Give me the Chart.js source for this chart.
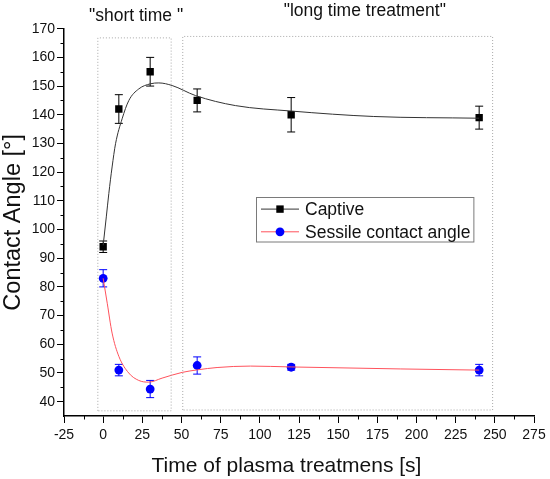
<!DOCTYPE html>
<html>
<head>
<meta charset="utf-8">
<script src="https://cdn.jsdelivr.net/npm/chart.js@4.4.0/dist/chart.umd.min.js"></script>
<style>
  html, body { margin: 0; padding: 0; background: #fff; }
  #wrap { width: 550px; height: 479px; }
</style>
</head>
<body>
<div id="wrap"><canvas id="myChart"></canvas></div>
<script>
// measured points
const times = [0, 10, 30, 60, 120, 240];
const captive = [94, 142, 155, 145, 140, 139];
const captiveErr = [2, 5, 5, 4, 6, 4];
const sessile = [83, 51, 44.4, 52.6, 52, 51];
const sessileErr = [3, 2, 3, 3, 1, 2];

// fitted curves
const captiveFitX = [0, 2, 3.6, 5.7, 7.9, 12.1, 16.4, 22.7, 30.2, 35.5, 44, 58.9, 84.4, 120, 172.7, 240];
const captiveFitY = [94.5, 104.4, 112.5, 121.8, 129.9, 138.6, 145, 149, 150.8, 151.1, 150.2, 146.7, 143.2, 141.3, 139.4, 138.8];
const sessileFitX = [0, 2.6, 5.7, 10, 16.3, 22.7, 29.1, 37.6, 50.4, 60.4, 72.7, 94, 120, 190, 240];
const sessileFitY = [83, 74.3, 63.9, 55.8, 50, 47.4, 46.8, 48.2, 50.2, 51.1, 51.9, 52.4, 52.1, 51.4, 51];

// axes
const xTicks = [-25, 0, 25, 50, 75, 100, 125, 150, 175, 200, 225, 250, 275];
const xMinor = [-12.5, 12.5, 37.5, 62.5, 87.5, 112.5, 137.5, 162.5, 187.5, 212.5, 237.5, 262.5];
const yTicks = [40, 50, 60, 70, 80, 90, 100, 110, 120, 130, 140, 150, 160, 170];
const yMinor = [45, 55, 65, 75, 85, 95, 105, 115, 125, 135, 145, 155, 165];

// dotted regions: [xFrom, xTo, yFrom, yTo]
const shortRegion = [-3.4, 43.4, 36.8, 166.8];
const longRegion = [50.8, 248.6, 37.1, 167.3];

const FONT = 'Liberation Sans, Arial, sans-serif';
const RED = 'rgb(255, 82, 92)';
const BLUE = '#0000ff';

const toPoints = (xs, ys) => xs.map((x, i) => ({ x: x, y: ys[i] }));
const boxPoints = (r) => [
  { x: r[0], y: r[2] }, { x: r[0], y: r[3] }, { x: r[1], y: r[3] },
  { x: r[1], y: r[2] }, { x: r[0], y: r[2] }
];

const errorBars = {
  id: 'errorBars',
  beforeDatasetsDraw(chart) {
    const { ctx, scales: { x, y } } = chart;
    ctx.save();
    ctx.lineWidth = 1;
    [[captive, captiveErr, '#000'], [sessile, sessileErr, BLUE]].forEach(([vals, errs, color]) => {
      ctx.strokeStyle = color;
      vals.forEach((v, i) => {
        const px = x.getPixelForValue(times[i]);
        const top = y.getPixelForValue(v + errs[i]);
        const bot = y.getPixelForValue(v - errs[i]);
        ctx.beginPath();
        ctx.moveTo(px, top); ctx.lineTo(px, bot);
        ctx.moveTo(px - 4, top); ctx.lineTo(px + 4, top);
        ctx.moveTo(px - 4, bot); ctx.lineTo(px + 4, bot);
        ctx.stroke();
      });
    });
    ctx.restore();
  }
};

const minorTicks = {
  id: 'minorTicks',
  afterDraw(chart) {
    const { ctx, chartArea, scales: { x, y } } = chart;
    ctx.save();
    ctx.strokeStyle = '#000';
    ctx.lineWidth = 1;
    ctx.beginPath();
    xMinor.forEach(v => {
      const px = Math.round(x.getPixelForValue(v)) + 0.5;
      ctx.moveTo(px, chartArea.bottom);
      ctx.lineTo(px, chartArea.bottom + 3.5);
    });
    yMinor.forEach(v => {
      const py = Math.round(y.getPixelForValue(v)) + 0.5;
      ctx.moveTo(chartArea.left, py);
      ctx.lineTo(chartArea.left - 3.5, py);
    });
    ctx.stroke();
    ctx.restore();
  }
};

const labels = {
  id: 'labels',
  afterDraw(chart) {
    const { ctx, chartArea, scales: { x } } = chart;
    ctx.save();
    ctx.fillStyle = '#111';
    ctx.textAlign = 'center';
    ctx.textBaseline = 'alphabetic';
    ctx.font = '17.5px ' + FONT;
    ctx.fillText('"short time "', x.getPixelForValue(21), chartArea.top - 7.7);
    ctx.fillText('"long time treatment"', x.getPixelForValue(167), chartArea.top - 13);
    ctx.font = '21px ' + FONT;
    ctx.fillText('Time of plasma treatmens [s]', x.getPixelForValue(117), chart.height - 7.5);
    ctx.restore();
  }
};

const legendBox = {
  id: 'legendBox',
  afterDraw(chart) {
    const { ctx, scales: { x, y } } = chart;
    const left = Math.round(x.getPixelForValue(97.6)) + 0.5;
    const top = Math.round(y.getPixelForValue(111.4)) + 0.5;
    const entries = [
      { text: 'Captive', line: '#333', shape: 'rect', color: '#000' },
      { text: 'Sessile contact angle', line: RED, shape: 'circle', color: BLUE }
    ];
    ctx.save();
    ctx.font = '17.5px ' + FONT;
    const textW = Math.max(...entries.map(e => ctx.measureText(e.text).width));
    const w = 48.5 + textW + 3.5, h = 44.5;
    ctx.fillStyle = '#fff';
    ctx.fillRect(left, top, w, h);
    ctx.strokeStyle = '#7a7a7a';
    ctx.lineWidth = 1;
    ctx.strokeRect(left, top, w, h);
    entries.forEach((e, i) => {
      const cy = top + 11.6 + i * 22.7;
      ctx.strokeStyle = e.line;
      ctx.beginPath();
      ctx.moveTo(left + 4.5, cy);
      ctx.lineTo(left + 42.5, cy);
      ctx.stroke();
      ctx.fillStyle = e.color;
      if (e.shape === 'rect') {
        ctx.fillRect(left + 23.5 - 3.7, cy - 3.7, 7.4, 7.4);
      } else {
        ctx.beginPath();
        ctx.arc(left + 23.5, cy, 4.4, 0, Math.PI * 2);
        ctx.fill();
      }
      ctx.fillStyle = '#111';
      ctx.textBaseline = 'middle';
      ctx.fillText(e.text, left + 48.5, cy + 1);
    });
    ctx.restore();
  }
};

const tickFont = { family: FONT, size: 14 };

new Chart(document.getElementById('myChart'), {
  type: 'scatter',
  data: {
    datasets: [
      {
        label: 'short region',
        data: boxPoints(shortRegion),
        showLine: true, borderColor: '#a8a8a8', borderWidth: 1, borderDash: [1, 2],
        pointRadius: 0, tension: 0
      },
      {
        label: 'long region',
        data: boxPoints(longRegion),
        showLine: true, borderColor: '#a8a8a8', borderWidth: 1, borderDash: [1, 2],
        pointRadius: 0, tension: 0
      },
      {
        label: 'Captive fit',
        data: toPoints(captiveFitX, captiveFitY),
        showLine: true, borderColor: '#333', borderWidth: 1,
        pointRadius: 0, cubicInterpolationMode: 'monotone'
      },
      {
        label: 'Sessile fit',
        data: toPoints(sessileFitX, sessileFitY),
        showLine: true, borderColor: RED, borderWidth: 1,
        pointRadius: 0, cubicInterpolationMode: 'monotone'
      },
      {
        label: 'Captive',
        data: toPoints(times, captive),
        pointStyle: 'rect', pointRadius: 5.2,
        backgroundColor: '#000', borderColor: '#000', borderWidth: 0
      },
      {
        label: 'Sessile contact angle',
        data: toPoints(times, sessile),
        pointStyle: 'circle', pointRadius: 4.4,
        backgroundColor: BLUE, borderColor: BLUE, borderWidth: 0
      }
    ]
  },
  options: {
    responsive: true,
    maintainAspectRatio: false,
    animation: false,
    layout: { padding: { top: 28.7, right: 16, left: 0, bottom: 0 } },
    plugins: {
      legend: { display: false },
      tooltip: { enabled: false }
    },
    scales: {
      x: {
        type: 'linear',
        min: -25,
        max: 275,
        afterBuildTicks: s => { s.ticks = xTicks.map(v => ({ value: v })); },
        afterFit: s => { s.height = 63; },
        grid: { drawOnChartArea: false, tickLength: 7, color: '#000', tickColor: '#000' },
        border: { color: '#000', width: 1.5 },
        ticks: { font: tickFont, color: '#111', padding: 4, maxRotation: 0 }
      },
      y: {
        type: 'linear',
        min: 35,
        max: 170,
        afterBuildTicks: s => { s.ticks = yTicks.map(v => ({ value: v })); },
        afterFit: s => { s.width = 64; },
        grid: { drawOnChartArea: false, tickLength: 7, color: '#000', tickColor: '#000' },
        border: { color: '#000', width: 1.5 },
        ticks: { font: tickFont, color: '#111', padding: 2 },
        title: {
          display: true,
          text: 'Contact Angle [°]',
          font: { family: FONT, size: 23.5, lineHeight: 1.1 },
          color: '#111',
          padding: { top: 0.5, bottom: 0 }
        }
      }
    }
  },
  plugins: [errorBars, minorTicks, labels, legendBox]
});
</script>
</body>
</html>
